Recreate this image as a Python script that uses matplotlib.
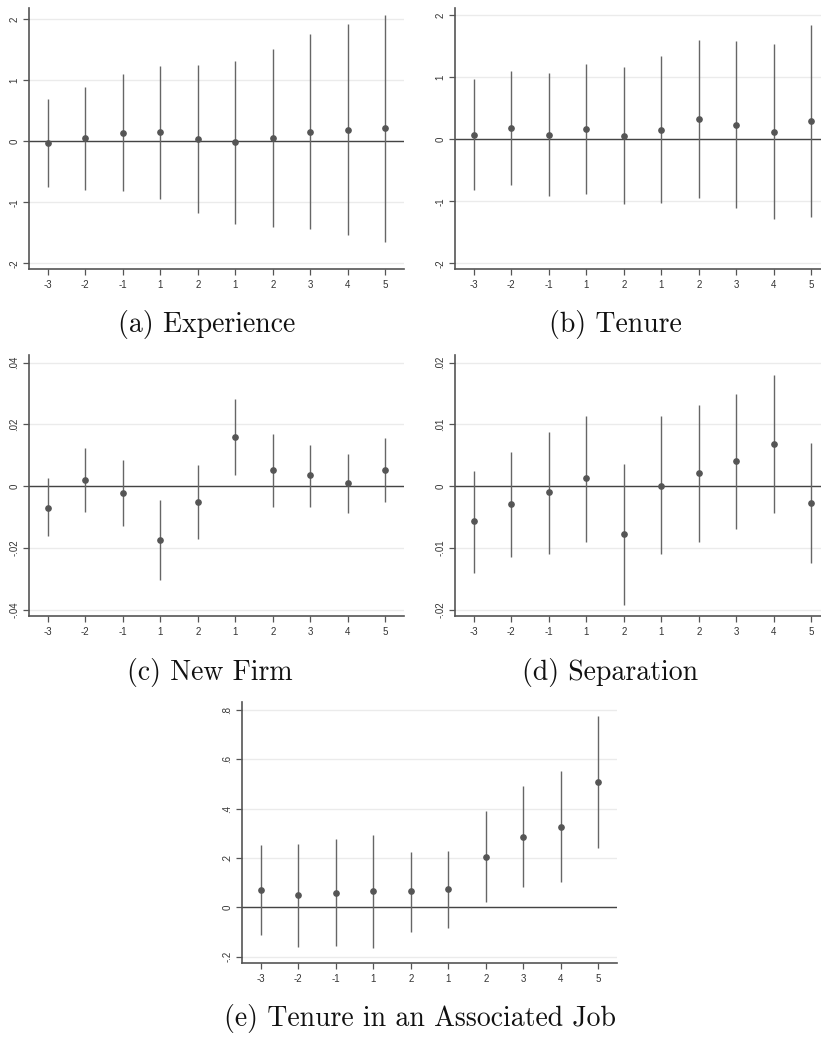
import matplotlib
matplotlib.use("Agg")
import matplotlib.pyplot as plt
import numpy as np

# ---- data ----
xlabels = ["-3", "-2", "-1", "1", "2", "1", "2", "3", "4", "5"]

exp_pt = [-0.03, 0.05, 0.13, 0.15, 0.03, -0.02, 0.05, 0.15, 0.19, 0.21]
exp_hi = [0.69, 0.89, 1.10, 1.23, 1.24, 1.32, 1.51, 1.75, 1.92, 2.07]
exp_lo = [-0.75, -0.79, -0.82, -0.95, -1.18, -1.35, -1.41, -1.44, -1.54, -1.65]

ten_pt = [0.07, 0.19, 0.07, 0.17, 0.06, 0.16, 0.33, 0.24, 0.12, 0.30]
ten_hi = [0.97, 1.11, 1.07, 1.22, 1.17, 1.34, 1.61, 1.59, 1.54, 1.84]
ten_lo = [-0.82, -0.73, -0.92, -0.88, -1.04, -1.02, -0.95, -1.10, -1.29, -1.25]

nf_pt = [-0.0069, 0.0019, -0.0023, -0.0174, -0.0052, 0.0159, 0.0052, 0.0035, 0.0011, 0.0052]
nf_hi = [0.0028, 0.0124, 0.0084, -0.0046, 0.0068, 0.0282, 0.0168, 0.0133, 0.0105, 0.0156]
nf_lo = [-0.0162, -0.0083, -0.0129, -0.0304, -0.0171, 0.0037, -0.0067, -0.0066, -0.0086, -0.0052]

sep_pt = [-0.0057, -0.0029, -0.0010, 0.0013, -0.0078, 0.0001, 0.0021, 0.0041, 0.0069, -0.0027]
sep_hi = [0.0025, 0.0055, 0.0088, 0.0114, 0.0036, 0.0114, 0.0132, 0.0150, 0.0180, 0.0070]
sep_lo = [-0.0140, -0.0115, -0.0110, -0.0090, -0.0193, -0.0110, -0.0091, -0.0069, -0.0044, -0.0124]

ass_pt = [0.070, 0.050, 0.059, 0.064, 0.064, 0.074, 0.205, 0.286, 0.327, 0.507]
ass_hi = [0.251, 0.255, 0.277, 0.293, 0.223, 0.226, 0.391, 0.493, 0.551, 0.776]
ass_lo = [-0.112, -0.162, -0.158, -0.165, -0.099, -0.084, 0.020, 0.081, 0.103, 0.241]

yt_a = [-2, -1, 0, 1, 2]
yt_a_lab = ["-2", "-1", "0", "1", "2"]
yt_c = [-0.04, -0.02, 0, 0.02, 0.04]
yt_c_lab = ["-.04", "-.02", "0", ".02", ".04"]
yt_d = [-0.02, -0.01, 0, 0.01, 0.02]
yt_d_lab = ["-.02", "-.01", "0", ".01", ".02"]
yt_e = [-0.2, 0, 0.2, 0.4, 0.6, 0.8]
yt_e_lab = ["-.2", "0", ".2", ".4", ".6", ".8"]

captions = ["(a) Experience", "(b) Tenure", "(c) New Firm", "(d) Separation",
            "(e) Tenure in an Associated Job"]

W, H = 821, 1037
fig = plt.figure(figsize=(W / 100, H / 100), dpi=100)
fig.patch.set_facecolor("white")


def make_ax(left, top, bottom, width=375):
    return fig.add_axes([left / W, 1 - bottom / H, width / W, (bottom - top) / H])


def panel(ax, pt, lo, hi, yt, ytl, ylim):
    x = np.arange(len(pt))
    for t in yt:
        ax.axhline(t, color="#ebebeb", lw=1.0, zorder=0)
    ax.axhline(0, color="#444444", lw=1.0, zorder=1)
    ax.vlines(x, lo, hi, color="#666666", lw=1.0, zorder=2)
    ax.plot(x, pt, "o", color="#555555", ms=3.8, zorder=3)
    ax.set_xlim(-0.5, 9.5)
    ax.set_ylim(*ylim)
    ax.set_xticks(x)
    ax.set_xticklabels(xlabels)
    ax.set_yticks(yt)
    ax.set_yticklabels(ytl, rotation=90, va="center")
    for s in ["top", "right"]:
        ax.spines[s].set_visible(False)
    for s in ["left", "bottom"]:
        ax.spines[s].set_color("#555555")
        ax.spines[s].set_linewidth(1.2)
    ax.tick_params(axis="both", length=4, width=0.9, color="#555555",
                   labelsize=7, labelcolor="#333333", pad=3)
    ax.tick_params(axis="x", pad=4)
    for lab in ax.get_xticklabels() + ax.get_yticklabels():
        lab.set_family(["Liberation Sans", "DejaVu Sans"])
    ax.set_facecolor("white")


ax_a = make_ax(29, 8, 269)
panel(ax_a, exp_pt, exp_lo, exp_hi, yt_a, yt_a_lab, (-2.09, 2.18))
ax_b = make_ax(455, 8, 269)
panel(ax_b, ten_pt, ten_lo, ten_hi, yt_a, yt_a_lab, (-2.09, 2.12))
ax_c = make_ax(29, 355, 616)
panel(ax_c, nf_pt, nf_lo, nf_hi, yt_c, yt_c_lab, (-0.042, 0.0425))
ax_d = make_ax(455, 355, 616)
panel(ax_d, sep_pt, sep_lo, sep_hi, yt_d, yt_d_lab, (-0.021, 0.02125))
ax_e = make_ax(242, 702, 963)
panel(ax_e, ass_pt, ass_lo, ass_hi, yt_e, yt_e_lab, (-0.226, 0.832))

cap_pos = [(207, 332), (615, 332), (210, 680), (610, 680), (420, 1026)]
for txt, (cx, cy) in zip(captions, cap_pos):
    fig.text(cx / W, 1 - cy / H, txt, ha="center", va="baseline",
             fontsize=20, family="cmr10", color="#111111")

fig.savefig("out.png", dpi=100, facecolor="white")
